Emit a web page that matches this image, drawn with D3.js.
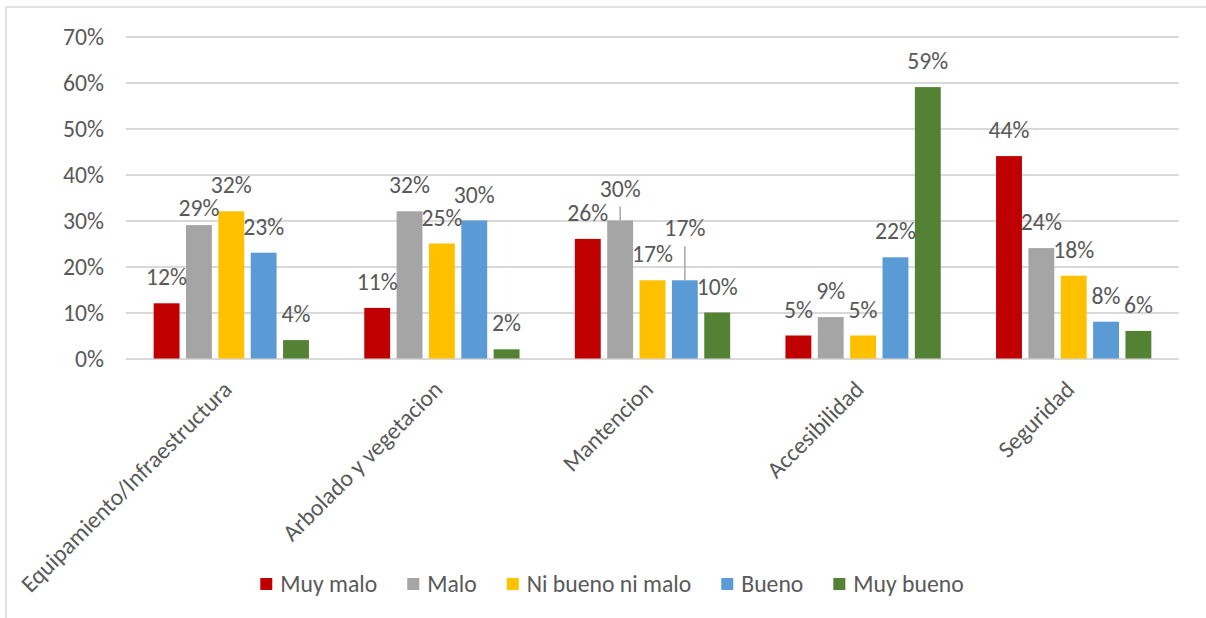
<!DOCTYPE html>
<html>
<head>
<meta charset="utf-8">
<script src="https://cdn.jsdelivr.net/npm/d3@7"></script>
<style>
  html, body { margin: 0; padding: 0; background: #ffffff; }
  svg { display: block; }
  text { font-family: Calibri, Carlito, "Liberation Sans", Arial, sans-serif; fill: #595959; }
</style>
</head>
<body>
<svg id="chart" width="1206" height="618"></svg>
<script>
// Survey ratings per park aspect (percent of answers)
const categories = ["Equipamiento/Infraestructura", "Arbolado y vegetacion", "Mantencion", "Accesibilidad", "Seguridad"];
const seriesNames = ["Muy malo", "Malo", "Ni bueno ni malo", "Bueno", "Muy bueno"];
const muyMalo   = [12, 11, 26, 5, 44];
const malo      = [29, 32, 30, 9, 24];
const niBueno   = [32, 25, 17, 5, 18];
const bueno     = [23, 30, 17, 22, 8];
const muyBueno  = [4, 2, 10, 59, 6];
const yTicks    = [0, 10, 20, 30, 40, 50, 60, 70];

const seriesValues = [muyMalo, malo, niBueno, bueno, muyBueno];
const colors = ["#C00000", "#A5A5A5", "#FFC000", "#5B9BD5", "#548235"];

// Labels that were dragged off their default spot (vertical shift in px, with leader line)
const labelMoves = [
  { cat: 0, ser: 1, dy: 9,   leader: false },
  { cat: 2, ser: 1, dy: -6,  leader: true },
  { cat: 2, ser: 3, dy: -26, leader: true }
];

const fontSize = "23.7px";
const svg = d3.select("#chart");
const plot = { left: 126, right: 1179, top: 36.5, bottom: 358.5 };

// Outer chart-area frame
svg.append("rect")
  .attr("x", 6).attr("y", 7)
  .attr("width", 1220).attr("height", 640)
  .attr("fill", "none").attr("stroke", "#d9d9d9").attr("stroke-width", 1.5);

const y = d3.scaleLinear().domain([0, 70]).range([plot.bottom, plot.top]);
const x0 = d3.scaleBand().domain(categories).range([plot.left, plot.right]).padding(0);
const x1 = d3.scaleBand().domain(seriesNames).range([0, x0.bandwidth()])
  .paddingInner(0.2).paddingOuter(0.855);

// Horizontal gridlines and percent ticks
const yAxis = d3.axisLeft(y).tickValues(yTicks).tickSize(0).tickFormat(d => d + "%");
const gy = svg.append("g").attr("transform", `translate(${plot.left},0)`).call(yAxis);
gy.select(".domain").remove();
gy.selectAll(".tick line").remove();
gy.selectAll(".tick").append("line")
  .attr("x1", 0).attr("x2", plot.right - plot.left)
  .attr("stroke", "#d9d9d9").attr("stroke-width", 2);
gy.selectAll(".tick text")
  .attr("x", 104 - plot.left).attr("dy", "0.32em")
  .attr("text-anchor", "end")
  .style("font-size", fontSize).style("fill", "#595959").style("font-family", null);

// Bars
const groups = svg.append("g").selectAll("g")
  .data(categories)
  .join("g")
  .attr("transform", d => `translate(${x0(d)},0)`);

groups.selectAll("rect")
  .data((c, ci) => seriesNames.map((s, si) => ({ s, si, ci, v: seriesValues[si][ci] })))
  .join("rect")
  .attr("x", d => x1(d.s))
  .attr("y", d => y(d.v))
  .attr("width", x1.bandwidth())
  .attr("height", d => y(0) - y(d.v))
  .attr("fill", d => colors[d.si]);

// Data labels
const labelGap = 18;
groups.each(function (c, ci) {
  const g = d3.select(this);
  seriesNames.forEach((s, si) => {
    const v = seriesValues[si][ci];
    const cx = x1(s) + x1.bandwidth() / 2;
    const move = labelMoves.find(m => m.cat === ci && m.ser === si);
    const base = y(v) - labelGap + (move ? move.dy : 0);
    if (move && move.leader) {
      g.append("line")
        .attr("x1", cx).attr("x2", cx)
        .attr("y1", base + 10).attr("y2", y(v))
        .attr("stroke", "#a6a6a6").attr("stroke-width", 1.5);
    }
    g.append("text")
      .attr("x", cx).attr("y", base)
      .attr("text-anchor", "middle")
      .style("font-size", fontSize)
      .text(v + "%");
  });
});

// Rotated category labels
svg.append("g").selectAll("text")
  .data(categories)
  .join("text")
  .attr("transform", d => `translate(${x0(d) + x0.bandwidth() / 2 + 2},391) rotate(-45)`)
  .attr("text-anchor", "end")
  .style("font-size", fontSize)
  .text(d => d);

// Legend
const legend = svg.append("g");
const items = legend.selectAll("g").data(seriesNames).join("g");
items.append("rect")
  .attr("width", 12).attr("height", 12)
  .attr("y", 578)
  .attr("fill", (d, i) => colors[i]);
items.append("text")
  .attr("x", 20).attr("y", 591.5)
  .style("font-size", fontSize)
  .text(d => d);
let cursor = 0;
const offsets = [];
items.each(function () {
  offsets.push(cursor);
  cursor += 20 + this.querySelector("text").getComputedTextLength() + 30;
});
const total = cursor - 30;
const start = 612 - total / 2;
items.attr("transform", (d, i) => `translate(${start + offsets[i]},0)`);
</script>
</body>
</html>
